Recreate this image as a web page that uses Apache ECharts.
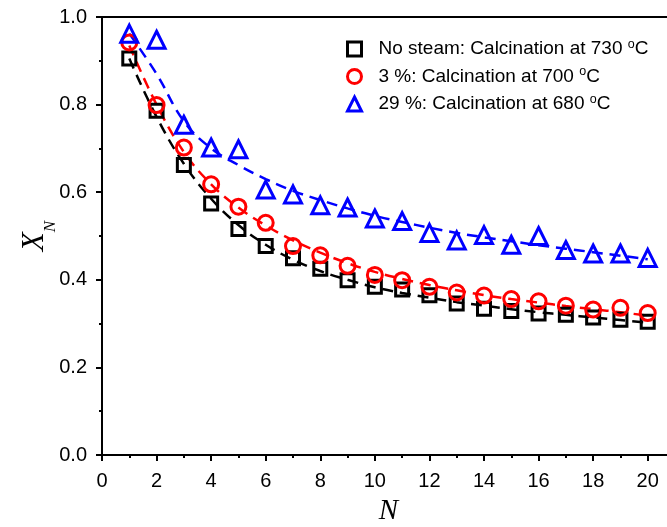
<!DOCTYPE html>
<html>
<head>
<meta charset="utf-8">
<script src="https://cdn.jsdelivr.net/npm/echarts@6/dist/echarts.min.js"></script>
<style>html,body{margin:0;padding:0;background:#fff;}#c{width:667px;height:527px;}</style>
</head>
<body>
<div id="c"></div>
<script>
const N = [1,2,3,4,5,6,7,8,9,10,11,12,13,14,15,16,17,18,19,20];
const noSteam = [0.905,0.786,0.662,0.574,0.516,0.477,0.449,0.425,0.399,0.384,0.378,0.365,0.346,0.334,0.329,0.323,0.320,0.314,0.309,0.304];
const steam3  = [0.942,0.799,0.702,0.618,0.567,0.530,0.477,0.456,0.432,0.411,0.399,0.384,0.371,0.364,0.356,0.351,0.341,0.332,0.336,0.324];
const steam29 = [0.962,0.948,0.754,0.702,0.698,0.606,0.595,0.570,0.565,0.540,0.534,0.507,0.490,0.502,0.480,0.500,0.468,0.460,0.460,0.450];
const fitNoSteam = [0.905,0.772,0.665,0.585,0.525,0.480,0.446,0.420,0.400,0.383,0.370,0.359,0.349,0.341,0.333,0.326,0.320,0.314,0.308,0.302];
const fit3  = [0.935,0.800,0.692,0.618,0.565,0.524,0.490,0.462,0.438,0.418,0.402,0.388,0.376,0.365,0.356,0.348,0.340,0.333,0.326,0.318];
const fit29 = [0.962,0.870,0.762,0.700,0.662,0.630,0.603,0.582,0.563,0.546,0.532,0.519,0.507,0.497,0.488,0.479,0.471,0.463,0.455,0.447];
const names = ['No steam: Calcination at 730 {s|o}C','3 %: Calcination at 700 {s|o}C','29 %: Calcination at 680 {s|o}C'];
const colors = ['#000000','#ff0000','#0000ff'];
const symbols = ['rect','circle','triangle'];
const sizes = [13,15,17];
const pts = [noSteam, steam3, steam29];
const fits = [fitNoSteam, fit3, fit29];

const chart = echarts.init(document.getElementById('c'));
const series = [];
fits.forEach((f,i)=>{
  series.push({type:'line', name:'fit'+i, data:N.map((n,j)=>[n,f[j]]), smooth:0.4, symbol:'none',
    lineStyle:{color:colors[i], width:2.5, type:[11,7]}, silent:true, z:2});
});
pts.forEach((p,i)=>{
  series.push({type:'scatter', name:names[i], data:N.map((n,j)=>[n,p[j]]), symbol:symbols[i], symbolSize:sizes[i],
    itemStyle:{color:'rgba(255,255,255,0)', borderColor:colors[i], borderWidth:3, opacity:1}, z:3});
});
chart.setOption({
  animation:false,
  backgroundColor:'#fff',
  grid:{left:102, right:-8, top:17, bottom:72, show:true, borderColor:'#000', borderWidth:2, backgroundColor:'transparent',
    containLabel:false, outerBoundsMode:'none'},
  legend:{
    data:names, left:341, top:33, orient:'vertical', itemGap:7, itemWidth:14, itemHeight:14,
    itemStyle:{borderWidth:3},
    textStyle:{fontFamily:'Liberation Sans, Arial', fontSize:19, color:'#000', padding:[0,0,0,12],
      rich:{s:{fontSize:12.5, verticalAlign:'top', padding:[0,0,9,0], fontFamily:'Liberation Sans'}}},
    align:'left'
  },
  xAxis:{
    type:'value', min:0, max:21, interval:2,
    name:'N', nameLocation:'middle', nameGap:42, nameMoveOverlap:false,
    nameTextStyle:{fontFamily:'Liberation Serif, Times New Roman', fontStyle:'italic', fontSize:29, color:'#000'},
    axisLine:{lineStyle:{color:'#000', width:2}},
    axisTick:{inside:false, length:6, lineStyle:{color:'#000', width:2}},
    minorTick:{show:true, splitNumber:2, length:3, lineStyle:{color:'#000', width:2}},
    axisLabel:{fontFamily:'Liberation Sans, Arial', fontSize:20, color:'#000', margin:16,
      formatter:v=> (v%2===0 && v<=20) ? String(v) : ''},
    splitLine:{show:false}
  },
  yAxis:{
    type:'value', min:0, max:1, interval:0.2,
    name:'{x|X}{n|N}', nameLocation:'middle', nameGap:52, nameRotate:90, nameMoveOverlap:false,
    nameTextStyle:{color:'#000', rich:{
      x:{fontFamily:'Liberation Serif', fontStyle:'italic', fontSize:31, color:'#000'},
      n:{fontFamily:'Liberation Serif', fontStyle:'italic', fontSize:17, color:'#000', verticalAlign:'bottom', padding:[0,0,-9,0]}}},
    axisLine:{lineStyle:{color:'#000', width:2}},
    axisTick:{inside:false, length:6, lineStyle:{color:'#000', width:2}},
    minorTick:{show:true, splitNumber:2, length:3, lineStyle:{color:'#000', width:2}},
    axisLabel:{fontFamily:'Liberation Sans, Arial', fontSize:20, color:'#000', margin:15, formatter:v=>v.toFixed(1)},
    splitLine:{show:false}
  },
  series:series
});
</script>
</body>
</html>
